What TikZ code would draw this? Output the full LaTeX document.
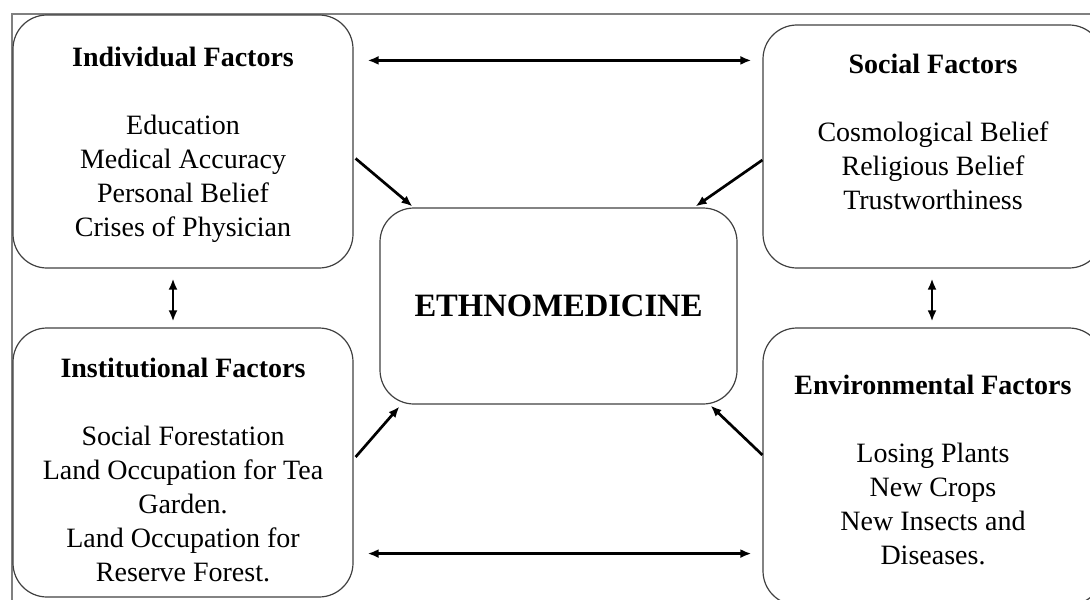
\documentclass[tikz,border=0pt]{standalone}
\usepackage{fontspec}
\setmainfont{Liberation Serif}
\usetikzlibrary{calc,arrows.meta}
\tikzset{
	factorbox/.style={draw=black!75, line width=0.6pt, rounded corners=17pt, inner sep=0pt},
	factortext/.style={align=center, font=\fontsize{14}{17}\selectfont},
	link/.style={line width=1.35pt, >={Latex[length=5.5pt,width=4.5pt]}},
}

\begin{document}
\begin{tikzpicture}[x=0.5pt,y=-0.5pt]
		%%%%% START %%%%%
		\useasboundingbox (0,0) rectangle (1090,599);
		\clip (0,0) rectangle (1090,599);
		
		\draw[line width=1pt, color=black!50] (12,14) rectangle (1110,620);
		
		% boxes
		\node[factorbox, minimum width=170pt, minimum height=126.5pt] (indiv) at (183,141.5) {};
		\node[factorbox, minimum width=170pt, minimum height=121.5pt] (social) at (933,146.5) {};
		\node[factorbox, minimum width=170pt, minimum height=134.5pt] (inst) at (183,462.5) {};
		\node[factorbox, minimum width=170pt, minimum height=138.5pt] (env) at (933,466.5) {};
		\node[factorbox, minimum width=178.5pt, minimum height=98pt, font=\fontsize{16.3}{19}\selectfont\bfseries] (ethno) at (558.5,306) {ETHNOMEDICINE};
		
		% texts
		\node[factortext] (indivtext) at (183,145) {\textbf{Individual Factors}\\[17pt] Education\\ Medical Accuracy\\ Personal Belief\\ Crises of Physician};
		\node[factortext] (socialtext) at (933,131.5) {\textbf{Social Factors}\\[17pt] Cosmological Belief\\ Religious Belief\\ Trustworthiness};
		\node[factortext] (insttext) at (183,470) {\textbf{Institutional Factors}\\[17pt] Social Forestation\\ Land Occupation for Tea\\ Garden.\\ Land Occupation for\\ Reserve Forest.};
		\node[factortext] (envtext) at (933,470) {\textbf{Environmental Factors}\\[17pt] Losing Plants\\ New Crops\\ New Insects and\\ Diseases.};
		
		% two way links
		\draw[link,<->] ($(indiv.north east)+(14,46)$) -- ($(social.north west)+(-11,36)$);
		\draw[link,<->] ($(inst.south east)+(14,-44)$) -- ($(env.south west)+(-11,-52)$);
		\draw[link,<->] ($(indiv.south)+(-10,10)$) -- ($(inst.north)+(-10,-6)$);
		\draw[link,<->] ($(social.south)+(-1,10)$) -- ($(env.north)+(-1,-6)$);
		
		% into the centre
		\draw[link,->] ($(indiv.east)+(2,17)$) -- ($(ethno.north west)+(33,-1)$);
		\draw[link,->] ($(social.west)+(0,13.5)$) -- ($(ethno.north east)+(-42,-1)$);
		\draw[link,->] ($(inst.east)+(2,-5.5)$) -- ($(ethno.south west)+(20,2)$);
		\draw[link,->] ($(env.west)+(0,-11.5)$) -- ($(ethno.south east)+(-27,1)$);
		
		%%%%% END %%%%%
\end{tikzpicture}
\end{document}
